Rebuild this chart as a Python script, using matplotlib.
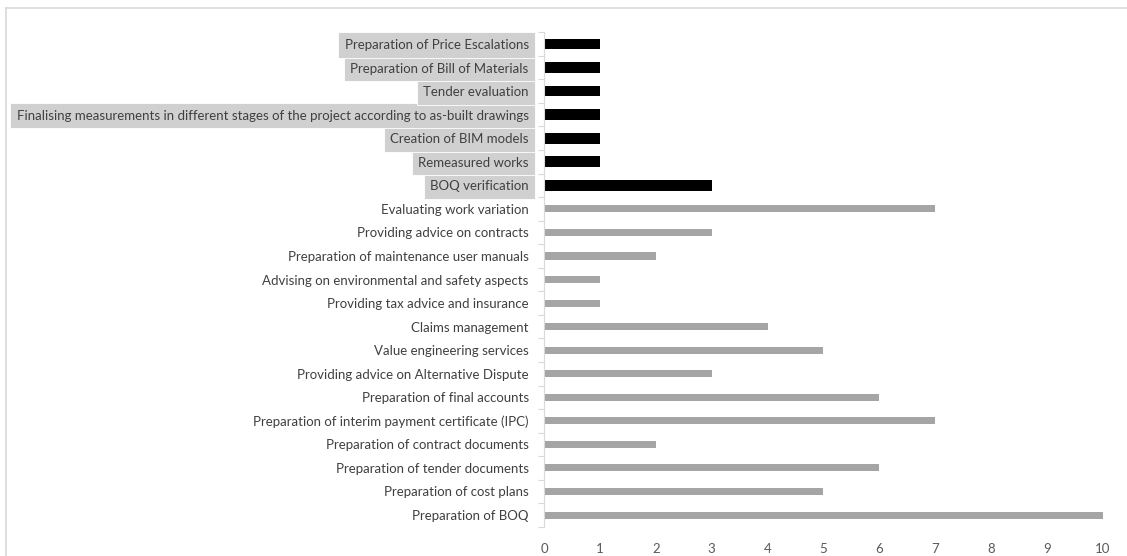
import matplotlib.pyplot as plt
import numpy as np
from matplotlib.lines import Line2D

# categories from bottom to top
categories = [
    "Preparation of BOQ",
    "Preparation of cost plans",
    "Preparation of tender documents",
    "Preparation of contract documents",
    "Preparation of interim payment certificate (IPC)",
    "Preparation of final accounts",
    "Providing advice on Alternative Dispute",
    "Value engineering services",
    "Claims management",
    "Providing tax advice and insurance",
    "Advising on environmental and safety aspects",
    "Preparation of maintenance user manuals",
    "Providing advice on contracts",
    "Evaluating work variation",
    "BOQ verification",
    "Remeasured works",
    "Creation of BIM models",
    "Finalising measurements in different stages of the project according to as-built drawings",
    "Tender evaluation",
    "Preparation of Bill of Materials",
    "Preparation of Price Escalations",
]
values = [10, 5, 6, 2, 7, 6, 3, 5, 4, 1, 1, 2, 3, 7, 3, 1, 1, 1, 1, 1, 1]
n_existing = 14  # first 14 are the existing services, rest are new ones

plt.rcParams["font.family"] = ["Lato", "DejaVu Sans"]

fig = plt.figure(figsize=(11.27, 5.56), dpi=100)
ax = fig.add_axes([0.4827, 0.0525, 0.496, 0.8895])

y = np.arange(len(categories))
ax.barh(y[:n_existing], values[:n_existing], height=0.3, color="#a5a5a5")
ax.barh(y[n_existing:], values[n_existing:], height=0.45, color="#000000")

ax.set_xlim(0, 10)
ax.set_ylim(-0.5, len(categories) - 0.5)
ax.set_xticks(range(0, 11))
ax.set_yticks(y)
ax.set_yticklabels(categories)
ax.set_yticks(np.arange(-0.5, len(categories)), minor=True)

ax.tick_params(axis="y", which="major", length=0, pad=11, labelsize=9.5, labelcolor="#404040")
ax.tick_params(axis="y", which="minor", length=4, color="#d9d9d9", width=0.8)
ax.tick_params(axis="x", length=0, pad=12, labelsize=9.5, labelcolor="#595959")

for lbl in ax.get_yticklabels()[n_existing:]:
    lbl.set_bbox(dict(boxstyle="square,pad=0.5", facecolor="#d0d0d0", edgecolor="white", linewidth=0.6))

for s in ["top", "right", "bottom"]:
    ax.spines[s].set_visible(False)
ax.spines["left"].set_color("#d9d9d9")
ax.spines["left"].set_linewidth(0.8)

# chart border
fig.add_artist(Line2D([0.0053, 0.0053], [0, 0.986], color="#d9d9d9", lw=1.2, transform=fig.transFigure))
fig.add_artist(Line2D([0.0053, 1], [0.986, 0.986], color="#d9d9d9", lw=1.2, transform=fig.transFigure))

plt.savefig("out.png", dpi=100, facecolor="white")
